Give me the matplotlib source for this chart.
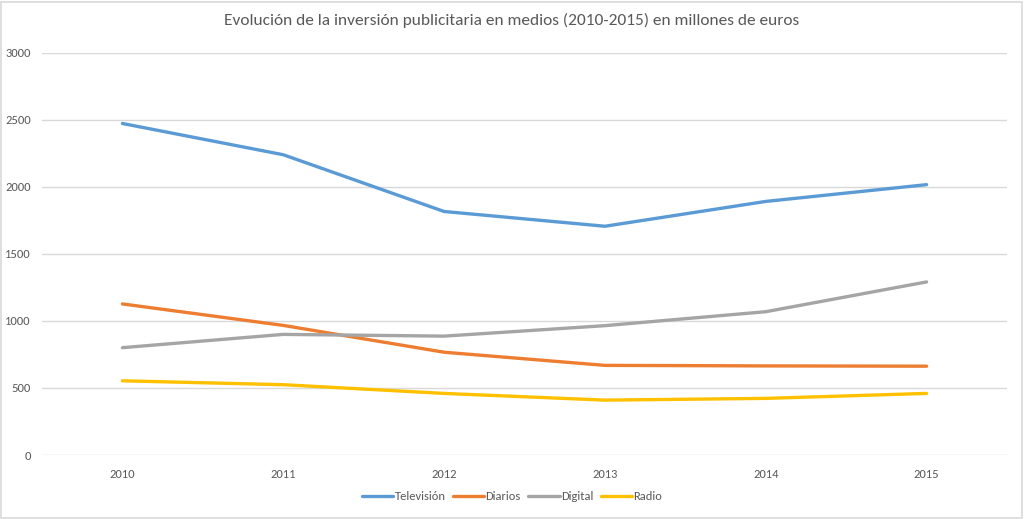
import matplotlib
matplotlib.use("Agg")
import matplotlib.pyplot as plt
from matplotlib.patches import Rectangle

plt.rcParams["font.family"] = ["Carlito", "Liberation Sans Narrow", "DejaVu Sans"]

# values (millones de euros)
YEARS = ["2010", "2011", "2012", "2013", "2014", "2015"]
TELEVISION = [2471, 2238, 1815, 1705, 1890, 2015]
DIARIOS = [1126, 966, 766, 668, 664, 662]
DIGITAL = [800, 899, 886, 964, 1068, 1290]
RADIO = [553, 524, 459, 409, 422, 459]

SERIES = [
    ("Televisión", TELEVISION, "#5B9BD5"),
    ("Diarios", DIARIOS, "#ED7D31"),
    ("Digital", DIGITAL, "#A5A5A5"),
    ("Radio", RADIO, "#FFC000"),
]
TEXT = "#595959"


def main():
    fig = plt.figure(figsize=(10.24, 5.19), dpi=100)
    ax = fig.add_axes([42 / 1024, 64 / 519, 965 / 1024, 402.5 / 519])

    xs = range(len(YEARS))
    for label, vals, color in SERIES:
        ax.plot(xs, vals, color=color, lw=2.4, label=label,
                solid_capstyle="round", zorder=3)

    ax.set_xlim(-0.5, len(YEARS) - 0.5)
    ax.set_ylim(0, 3000)
    ax.set_yticks(range(0, 3001, 500))
    ax.set_xticks(list(xs))
    ax.set_xticklabels(YEARS)
    ax.grid(axis="y", color="#D9D9D9", lw=1.0, zorder=0)
    for s in ax.spines.values():
        s.set_visible(False)
    ax.tick_params(length=0, labelsize=9, colors=TEXT, pad=10)
    ax.tick_params(axis="y", pad=8)

    fig.suptitle("Evolución de la inversión publicitaria en medios (2010-2015) en millones de euros",
                 y=0.975, fontsize=12.5, color=TEXT)
    ax.legend(loc="center", bbox_to_anchor=(0.5, 22 / 519), bbox_transform=fig.transFigure,
              ncol=4, frameon=False, fontsize=9, handlelength=2.5, handletextpad=0.1,
              columnspacing=0.6, labelcolor=TEXT)

    fig.patches.append(Rectangle((0.001, 0.002), 0.997, 0.995, transform=fig.transFigure,
                                 fill=False, edgecolor="#D9D9D9", lw=1.2))
    fig.savefig("out.png", dpi=100)


if __name__ == "__main__":
    main()
